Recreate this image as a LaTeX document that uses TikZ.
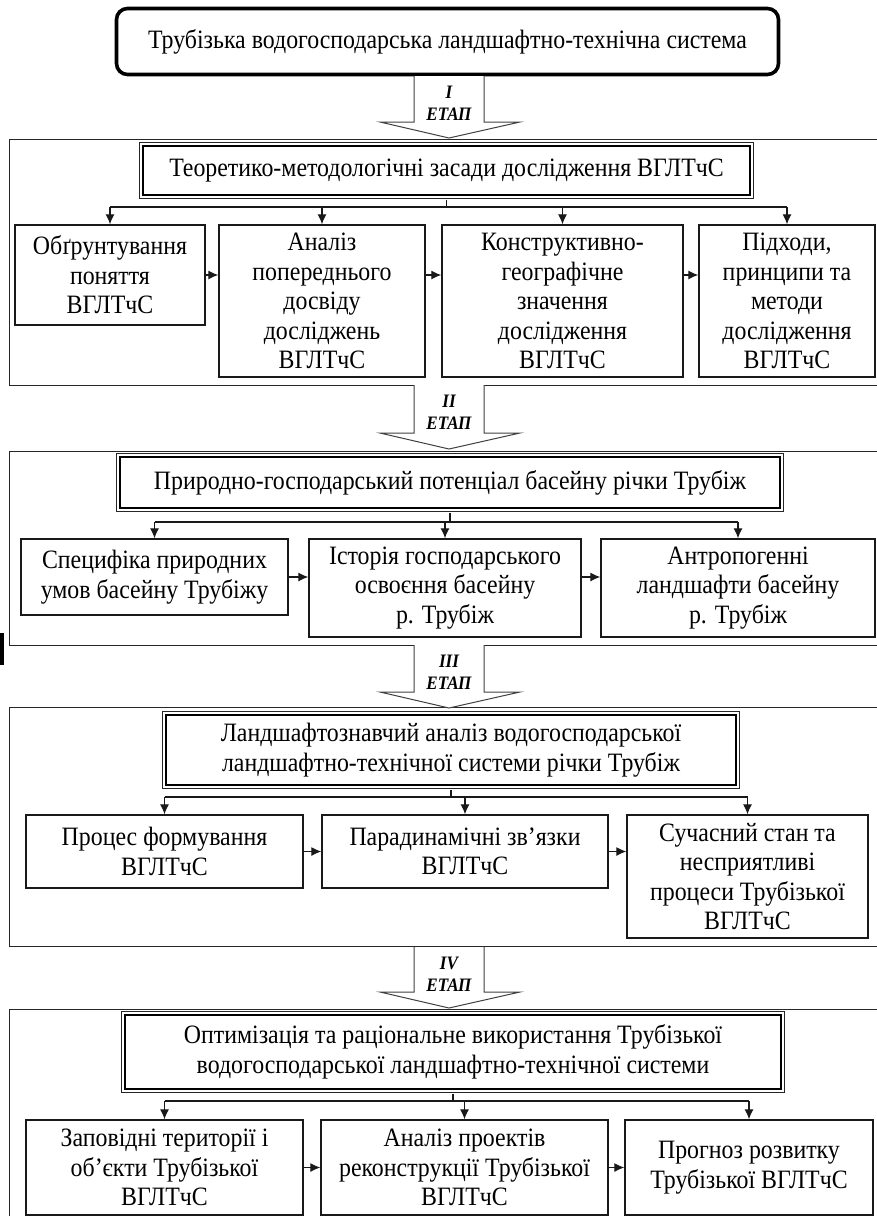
\documentclass[tikz,border=0pt]{standalone}
\usepackage{fontspec}
\setmainfont{Liberation Serif}[FakeStretch=0.9]
\usetikzlibrary{arrows.meta}

% block arrow between two stages: top y, tip y, numeral
\newcommand{\etaparrow}[3]{%
  \draw[blockarrow] (414,#1) -- (414,#2-16) -- (380,#2-16) -- (449,#2)
    -- (520,#2-16) -- (484,#2-16) -- (484,#1);
  \node[etap] at (449,#1+27) {#3\\ЕТАП};
}

\begin{document}
\begin{tikzpicture}[x=1pt, y=-1pt, >={Latex[length=10pt, width=9pt]},
    every node/.style={font=\fontsize{26.5}{29.5}\selectfont, align=center, inner sep=1pt},
    box/.style={draw=black!90, line width=1.3pt, fill=white},
    frame/.style={draw=black!85, line width=1.3pt, anchor=north west, inner sep=0pt},
    titlebox/.style={fill=white, draw=black, line width=2.4pt,
        preaction={draw=black!85, line width=7.8pt},
        preaction={draw=white, line width=5.4pt}},
    topbox/.style={draw=black, line width=3.6pt, rounded corners=11pt, fill=white},
    line/.style={draw=black!90, line width=1.2pt},
    blockarrow/.style={draw=black!75, line width=1pt, fill=white},
    etap/.style={font=\fontsize{19}{22}\selectfont\bfseries\itshape}]
  \useasboundingbox (0,0) rectangle (876,1216);

  % stage frames
  \node[frame, minimum width=869, minimum height=246] (sec1) at (9,139) {};
  \node[frame, minimum width=869, minimum height=194] (sec2) at (9,451) {};
  \node[frame, minimum width=869, minimum height=239] (sec3) at (9,707) {};
  \node[frame, minimum width=869, minimum height=220] (sec4) at (9,1009) {};
  \fill (0,633) rectangle (3.5,665);

  % top
  \node[topbox, minimum width=662, minimum height=66] (top) at (447.5,41.5)
    {Трубізька водогосподарська ландшафтно-технічна система};

  \etaparrow{76}{138}{I}
  \etaparrow{385}{449}{II}
  \etaparrow{645}{708}{III}
  \etaparrow{947}{1008}{IV}

  % stage I
  \node[titlebox, minimum width=607, minimum height=49] (t1) at (446.5,170.5)
    {Теоретико-методологічні засади дослідження ВГЛТчС};
  \node[box, minimum width=190, minimum height=100] (b11) at (110,275)
    {Обґрунтування\\поняття\\ВГЛТчС};
  \node[box, minimum width=206, minimum height=152] (b12) at (322,301)
    {Аналіз\\попереднього\\досвіду\\досліджень\\ВГЛТчС};
  \node[box, minimum width=241, minimum height=152] (b13) at (562.5,301)
    {Конструктивно-\\географічне\\значення\\дослідження\\ВГЛТчС};
  \node[box, minimum width=176, minimum height=152] (b14) at (787,301)
    {Підходи,\\принципи та\\методи\\дослідження\\ВГЛТчС};
  \coordinate (bus1) at (446.5,207);
  \draw[line] ([yshift=-3.5pt]t1.south) -- (bus1);
  \draw[line] (b11 |- bus1) -- (b14 |- bus1);
  \foreach \b in {b11,b12,b13,b14}
    \draw[line, ->] (\b |- bus1) -- (\b.north);
  \draw[line, ->] (b11.east) -- (b12.west |- b11);
  \draw[line, ->] (b12.east |- b11) -- (b13.west |- b11);
  \draw[line, ->] (b13.east |- b11) -- (b14.west |- b11);

  % stage II
  \node[titlebox, minimum width=660, minimum height=51] (t2) at (450,482.5)
    {Природно-господарський потенціал басейну річки Трубіж};
  \node[box, minimum width=267, minimum height=76] (b21) at (154.5,577)
    {Специфіка природних\\умов басейну Трубіжу};
  \node[box, minimum width=272, minimum height=98] (b22) at (445,588)
    {Історія господарського\\освоєння басейну\\р. Трубіж};
  \node[box, minimum width=274, minimum height=98] (b23) at (738,588)
    {Антропогенні\\ландшафти басейну\\р. Трубіж};
  \coordinate (bus2) at (450,522);
  \draw[line] ([yshift=-3.5pt]t2.south) -- (bus2);
  \draw[line] (b21 |- bus2) -- (b23 |- bus2);
  \foreach \b in {b21,b22,b23}
    \draw[line, ->] (\b |- bus2) -- (\b.north);
  \draw[line, ->] (b21.east) -- (b22.west |- b21);
  \draw[line, ->] (b22.east |- b21) -- (b23.west |- b21);

  % stage III
  \node[titlebox, minimum width=570, minimum height=70] (t3) at (451,750)
    {Ландшафтознавчий аналіз водогосподарської\\ландшафтно-технічної системи річки Трубіж};
  \node[box, minimum width=277, minimum height=73] (b31) at (164.5,851.5)
    {Процес формування\\ВГЛТчС};
  \node[box, minimum width=286, minimum height=73] (b32) at (465,851.5)
    {Парадинамічні зв’язки\\ВГЛТчС};
  \node[box, minimum width=241, minimum height=123] (b33) at (747.5,876.5)
    {Сучасний стан та\\несприятливі\\процеси Трубізької\\ВГЛТчС};
  \coordinate (bus3) at (451,797);
  \draw[line] ([yshift=-3.5pt]t3.south) -- (bus3);
  \draw[line] (b31 |- bus3) -- (b33 |- bus3);
  \foreach \b in {b31,b32,b33}
    \draw[line, ->] (\b |- bus3) -- (\b.north);
  \draw[line, ->] (b31.east) -- (b32.west |- b31);
  \draw[line, ->] (b32.east |- b31) -- (b33.west |- b31);

  % stage IV
  \node[titlebox, minimum width=656, minimum height=74] (t4) at (453,1052)
    {Оптимізація та раціональне використання Трубізької\\водогосподарської ландшафтно-технічної системи};
  \node[box, minimum width=277, minimum height=95] (b41) at (164.5,1167.5)
    {Заповідні території і\\об’єкти Трубізької\\ВГЛТчС};
  \node[box, minimum width=287, minimum height=95] (b42) at (464.5,1167.5)
    {Аналіз проектів\\реконструкції Трубізької\\ВГЛТчС};
  \node[box, minimum width=248, minimum height=95] (b43) at (749,1167.5)
    {Прогноз розвитку\\Трубізької ВГЛТчС};
  \coordinate (bus4) at (453,1101);
  \draw[line] ([yshift=-3.5pt]t4.south) -- (bus4);
  \draw[line] (b41 |- bus4) -- (b43 |- bus4);
  \foreach \b in {b41,b42,b43}
    \draw[line, ->] (\b |- bus4) -- (\b.north);
  \draw[line, ->] (b41.east) -- (b42.west |- b41);
  \draw[line, ->] (b42.east |- b41) -- (b43.west |- b41);
\end{tikzpicture}
\end{document}
